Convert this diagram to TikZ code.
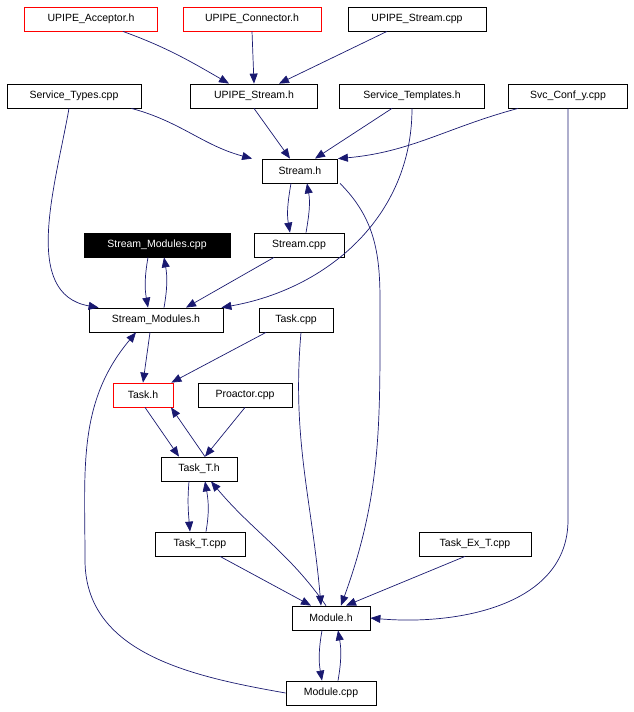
\documentclass[tikz,border=0pt]{standalone}
\usepackage{fontspec}
\setmainfont{Liberation Sans}
\usetikzlibrary{arrows.meta}
\definecolor{edgec}{RGB}{25,25,112}
\definecolor{boxred}{RGB}{255,0,0}
\begin{document}
\begin{tikzpicture}[x=1pt,y=-1pt,
  box/.style={draw=black,fill=white,inner sep=0pt,minimum height=24pt,font=\fontsize{10.5}{12}\selectfont,line width=0.8pt},
  redbox/.style={box,draw=boxred},
  e/.style={draw=edgec,line width=0.7pt,-{Triangle[length=10pt,width=8pt,fill=edgec]}}]
\useasboundingbox (0,0) rectangle (633,712);
\node[redbox,minimum width=133pt] (ua) at (91,19) {UPIPE\_Acceptor.h};
\node[redbox,minimum width=138pt] (uc) at (252,19) {UPIPE\_Connector.h};
\node[box,minimum width=138pt] (usc) at (417,19) {UPIPE\_Stream.cpp};
\node[box,minimum width=134pt] (stc) at (74,96) {Service\_Types.cpp};
\node[box,minimum width=127pt] (ush) at (254,96) {UPIPE\_Stream.h};
\node[box,minimum width=145pt] (sth) at (412,96) {Service\_Templates.h};
\node[box,minimum width=119pt] (svc) at (568,96) {Svc\_Conf\_y.cpp};
\node[box,minimum width=75pt] (sh) at (300,171) {Stream.h};
\node[box,fill=black,text=white,minimum width=146pt] (smc) at (157,245) {Stream\_Modules.cpp};
\node[box,minimum width=90pt] (sc) at (299,245) {Stream.cpp};
\node[box,minimum width=134pt] (smh) at (156,320) {Stream\_Modules.h};
\node[box,minimum width=74pt] (tc) at (296,320) {Task.cpp};
\node[redbox,minimum width=60pt] (th) at (143,395) {Task.h};
\node[box,minimum width=94pt] (pc) at (245,395) {Proactor.cpp};
\node[box,minimum width=76pt] (tth) at (199,469) {Task\_T.h};
\node[box,minimum width=90pt] (ttc) at (200,544) {Task\_T.cpp};
\node[box,minimum width=112pt] (tec) at (475,544) {Task\_Ex\_T.cpp};
\node[box,minimum width=78pt] (mh) at (331,618) {Module.h};
\node[box,minimum width=90pt] (mc) at (331,693) {Module.cpp};

\draw[e] ([xshift=-35pt]ua.south east) to[out=-20,in=150] ([xshift=-25pt]ush.north);
\draw[e] (uc.south) to (ush.north);
\draw[e] ([xshift=-30pt]usc.south) to ([xshift=25pt]ush.north);
\draw[e] ([xshift=-10pt]stc.south east) to[out=-15,in=165] ([xshift=-10pt]sh.north west);
\draw[e] ([xshift=-5pt]stc.south) to[out=-100,in=170] ([xshift=10pt]smh.north west);
\draw[e] (ush.south) to ([xshift=-10pt]sh.north);
\draw[e] ([xshift=-20pt]sth.south) to ([xshift=15pt]sh.north);
\draw[e] (sth.south) to[out=-90,in=10] ([xshift=-2pt]smh.north east);
\draw[e] ([xshift=10pt]svc.south west) to[out=-165,in=5] (sh.north east);
\draw[e] (svc.south) to[out=-90,in=90] (568,520) to[out=-90,in=-5] (mh.east);
\draw[e] ([xshift=-9pt]sh.south) to[out=-100,in=100] ([xshift=-9pt]sc.north);
\draw[e] ([xshift=7pt]sc.north) to[out=80,in=-80] ([xshift=7pt]sh.south);
\draw[e] ([xshift=40pt]sh.south) to[out=-45,in=90] (380,300) to[out=-90,in=70] ([xshift=10pt]mh.north);
\draw[e] ([xshift=-9pt]smc.south) to[out=-100,in=100] ([xshift=-8pt]smh.north);
\draw[e] ([xshift=8pt]smh.north) to[out=80,in=-80] ([xshift=7pt]smc.south);
\draw[e] ([xshift=-25pt]sc.south) to ([xshift=30pt]smh.north);
\draw[e] ([xshift=-6pt]smh.south) to (th.north);
\draw[e] ([xshift=-30pt]tc.south) to ([xshift=-2pt]th.north east);
\draw[e] ([xshift=5pt]tc.south) to[out=-95,in=95] ([xshift=-10pt]mh.north);
\draw[e] ([xshift=2pt]th.south) to ([xshift=-20pt]tth.north);
\draw[e] ([xshift=6pt]tth.north) to ([xshift=28pt]th.south);
\draw[e] (pc.south) to ([xshift=6pt]tth.north);
\draw[e] ([xshift=-10pt]tth.south) to[out=-95,in=95] ([xshift=-10pt]ttc.north);
\draw[e] ([xshift=6pt]ttc.north) to[out=80,in=-80] ([xshift=6pt]tth.south);
\draw[e] ([xshift=20pt]ttc.south) to ([xshift=-20pt]mh.north);
\draw[e] ([xshift=-5pt]mh.north) to[out=125,in=-50] ([xshift=12pt]tth.south);
\draw[e] ([xshift=-10pt]tec.south) to ([xshift=15pt]mh.north);
\draw[e] ([xshift=-9pt]mh.south) to[out=-100,in=100] ([xshift=-9pt]mc.north);
\draw[e] ([xshift=7pt]mc.north) to[out=80,in=-80] ([xshift=7pt]mh.south);
\draw[e] (mc.west) to[out=170,in=-90] (85,560) to[out=90,in=-130] ([xshift=-20pt]smh.south);
\end{tikzpicture}
\end{document}
